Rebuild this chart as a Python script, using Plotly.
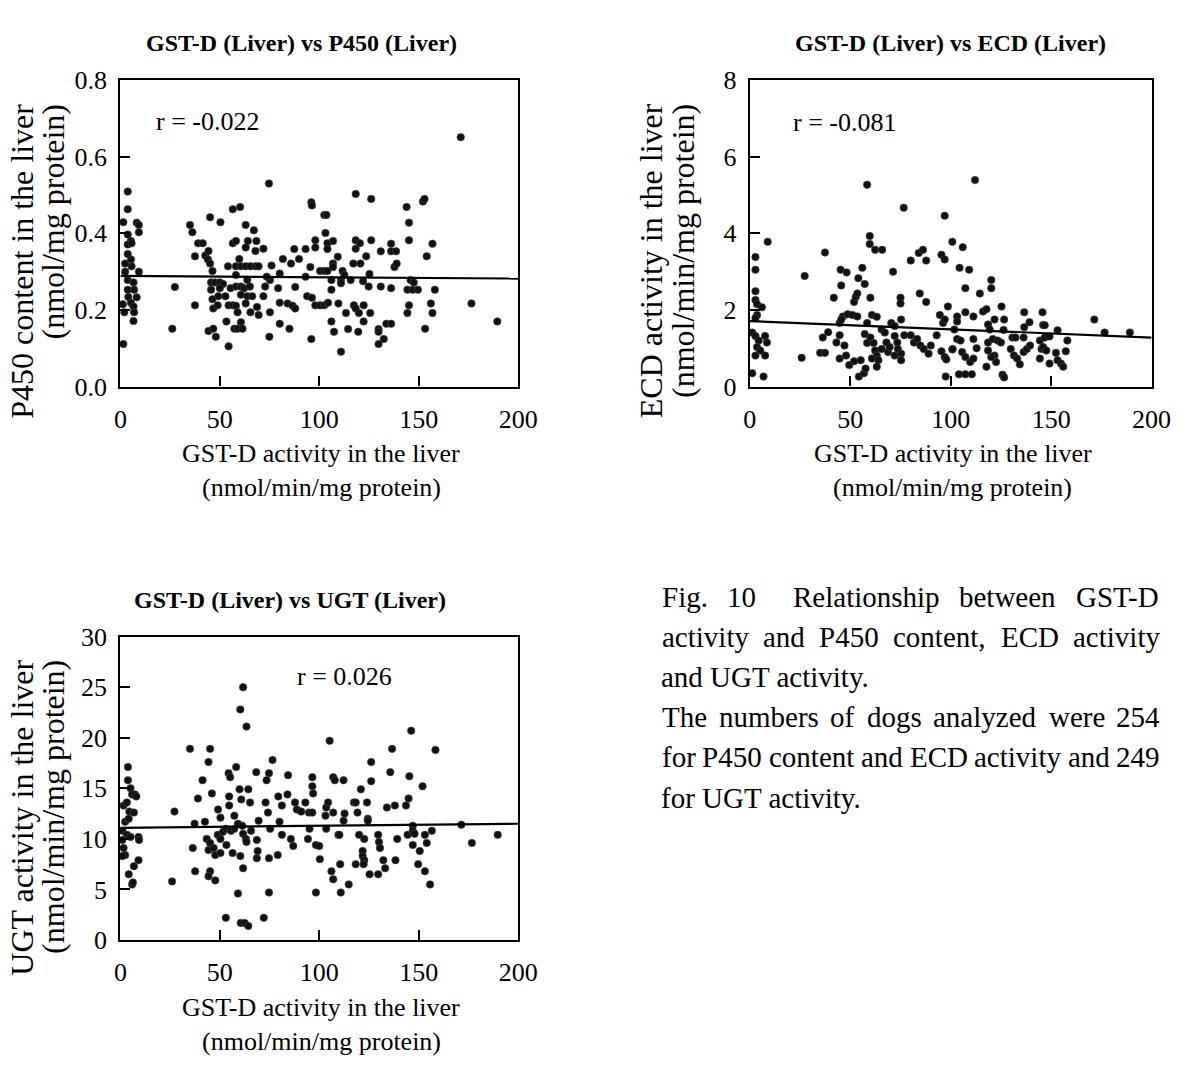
import re
import plotly.graph_objects as go

# ---------------- data ----------------
GST_TICKS = [0, 50, 100, 150, 200]

P450_TICKS = [0.0, 0.2, 0.4, 0.6, 0.8]
P450_TICK_TEXT = ["0.0", "0.2", "0.4", "0.6", "0.8"]
P450_R = "r = -0.022"
P450_FIT_X = [0, 200]
P450_FIT_Y = [0.289, 0.282]
P450_POINTS = [
    (3.7, 0.509), (3.7, 0.463), (1.5, 0.429), (8.2, 0.428), (9.3, 0.422), (9.3, 0.403), (3.7, 0.397),
    (5.3, 0.380), (3.7, 0.371), (5.6, 0.374), (5.3, 0.332), (5.6, 0.314), (9.3, 0.300), (2.4, 0.300),
    (3.7, 0.278), (6.6, 0.272), (3.7, 0.253), (6.9, 0.253), (4.0, 0.234), (8.2, 0.233), (5.3, 0.219),
    (6.6, 0.209), (1.2, 0.215), (2.0, 0.194), (6.9, 0.194), (6.6, 0.171), (1.5, 0.111), (2.4, 0.321),
    (3.7, 0.346),
    (27.4, 0.260), (26.1, 0.151), (35.0, 0.422), (36.2, 0.403), (37.5, 0.340), (39.1, 0.374), (41.4, 0.374),
    (37.5, 0.212), (42.7, 0.342), (44.0, 0.332), (45.1, 0.321), (44.3, 0.354), (45.1, 0.442), (50.3, 0.429),
    (46.3, 0.302), (45.6, 0.272), (47.6, 0.272), (50.0, 0.272), (51.6, 0.268), (45.6, 0.253), (50.0, 0.257),
    (46.3, 0.228), (49.2, 0.236), (46.7, 0.204), (48.9, 0.212), (44.3, 0.145), (46.7, 0.151), (48.0, 0.130),
    (53.3, 0.170), (54.4, 0.105), (52.8, 0.236), (54.4, 0.212), (56.5, 0.212), (58.1, 0.211), (58.9, 0.194),
    (56.5, 0.463), (60.2, 0.469), (56.5, 0.374), (58.1, 0.380), (54.1, 0.314), (58.1, 0.314), (59.8, 0.333),
    (60.6, 0.314), (63.0, 0.314), (65.4, 0.314), (67.9, 0.314), (69.5, 0.314), (58.1, 0.291), (55.4, 0.257),
    (58.1, 0.261), (60.6, 0.261), (62.2, 0.257), (60.6, 0.240), (63.8, 0.236), (63.0, 0.422), (67.1, 0.408),
    (64.1, 0.380), (68.4, 0.380), (63.0, 0.363), (67.9, 0.354), (71.9, 0.360), (63.8, 0.278), (65.1, 0.261),
    (66.3, 0.236), (63.0, 0.217), (65.4, 0.194), (68.7, 0.208), (69.5, 0.187), (57.3, 0.151), (58.9, 0.151),
    (60.6, 0.168), (61.4, 0.151), (74.7, 0.530), (71.9, 0.236), (72.8, 0.261), (75.2, 0.278), (73.6, 0.287),
    (76.0, 0.316), (75.2, 0.194), (74.9, 0.130), (80.1, 0.295), (79.3, 0.257), (80.1, 0.219), (80.1, 0.164),
    (81.7, 0.333), (84.1, 0.217), (85.0, 0.151), (85.8, 0.321), (87.4, 0.359), (89.8, 0.333), (93.1, 0.359),
    (87.9, 0.260), (86.6, 0.211), (87.9, 0.204), (93.1, 0.287), (95.5, 0.312), (98.0, 0.363), (98.0, 0.382),
    (93.9, 0.236), (96.3, 0.232), (98.0, 0.212), (100.4, 0.212), (96.0, 0.481), (96.3, 0.473), (96.0, 0.124),
    (100.4, 0.302), (102.5, 0.448), (103.6, 0.448), (103.1, 0.401), (104.1, 0.374), (104.1, 0.359),
    (106.9, 0.380), (102.5, 0.302), (104.1, 0.302), (106.9, 0.321), (106.9, 0.312), (109.3, 0.339),
    (111.7, 0.302), (106.1, 0.278), (110.9, 0.278), (110.9, 0.270), (115.8, 0.278), (112.6, 0.291),
    (106.1, 0.253), (102.5, 0.212), (104.4, 0.219), (109.6, 0.217), (106.1, 0.170), (107.4, 0.143),
    (110.9, 0.091), (113.4, 0.192), (114.5, 0.150), (119.6, 0.143), (118.3, 0.503), (126.1, 0.490),
    (118.3, 0.382), (120.4, 0.374), (118.3, 0.360), (126.1, 0.382), (117.1, 0.321), (120.7, 0.321),
    (123.6, 0.340), (125.2, 0.294), (122.0, 0.275), (124.8, 0.261), (117.4, 0.212), (118.3, 0.204),
    (119.9, 0.192), (122.3, 0.212), (122.3, 0.170), (125.6, 0.192), (130.9, 0.353), (136.1, 0.373),
    (136.1, 0.353), (138.6, 0.353), (137.8, 0.312), (138.9, 0.321), (130.9, 0.261), (136.1, 0.257),
    (129.8, 0.150), (129.8, 0.143), (133.7, 0.164), (136.1, 0.164), (129.8, 0.111), (132.4, 0.124),
    (143.9, 0.469), (145.1, 0.428), (145.1, 0.382), (152.1, 0.483), (152.9, 0.490), (156.9, 0.373),
    (154.0, 0.340), (145.9, 0.278), (147.5, 0.272), (144.3, 0.253), (147.0, 0.253), (149.6, 0.253),
    (158.1, 0.253), (145.1, 0.212), (144.3, 0.192), (156.1, 0.217), (156.9, 0.192), (153.2, 0.151),
    (171.1, 0.651), (176.5, 0.217), (189.5, 0.170),
]

ECD_TICKS = [0, 2, 4, 6, 8]
ECD_TICK_TEXT = ["0", "2", "4", "6", "8"]
ECD_R = "r = -0.081"
ECD_FIT_X = [0, 200]
ECD_FIT_Y = [1.71, 1.28]
ECD_POINTS = [
    (8.9, 3.78), (2.8, 3.38), (2.8, 3.05), (2.8, 2.49), (2.8, 2.26), (3.6, 2.15), (6.0, 2.07), (3.6, 1.87),
    (2.8, 1.79), (1.2, 1.41), (2.8, 1.32), (4.4, 1.20), (7.6, 1.32), (8.5, 1.15), (3.6, 1.03), (5.2, 0.94),
    (7.6, 0.81), (2.8, 0.81), (1.2, 0.35), (6.8, 0.26),
    (27.3, 2.89), (25.8, 0.75), (35.0, 0.88), (37.4, 0.88), (37.4, 3.50), (36.3, 1.28), (39.0, 1.42),
    (41.8, 2.32), (45.2, 3.05), (48.2, 2.98), (45.5, 2.64), (43.1, 1.15), (44.7, 1.34), (47.1, 1.07),
    (44.7, 0.73), (47.9, 0.81), (49.5, 0.56), (44.7, 1.66), (46.3, 1.83), (48.7, 1.89), (51.1, 1.87),
    (53.5, 1.83), (45.5, 1.75), (51.9, 2.21), (52.7, 2.34), (53.5, 2.43), (56.0, 3.10), (54.0, 2.83),
    (57.2, 2.68), (51.9, 0.66), (55.2, 0.69), (54.3, 0.26), (56.8, 0.35), (57.6, 0.47), (58.4, 5.27),
    (59.7, 3.93), (59.7, 3.72), (62.4, 3.57), (65.9, 3.57), (60.0, 2.32), (58.4, 1.66), (60.8, 1.87),
    (63.2, 1.82), (57.2, 1.37), (58.4, 1.14), (60.0, 1.28), (61.6, 1.14), (62.4, 0.94), (63.2, 0.81),
    (64.0, 0.69), (60.8, 0.73), (63.2, 0.52), (65.6, 1.49), (67.2, 1.41), (68.0, 1.15), (65.6, 0.98),
    (68.8, 0.90), (69.6, 1.03), (70.4, 1.66), (72.1, 1.58), (75.3, 1.75), (71.3, 3.00), (75.0, 2.32),
    (75.0, 2.17), (72.1, 1.32), (73.4, 1.15), (73.7, 0.98), (75.3, 0.86), (75.3, 0.69), (72.1, 0.81),
    (76.6, 4.67), (80.1, 3.29), (84.1, 3.49), (86.2, 3.57), (87.8, 3.29), (84.6, 2.43), (87.8, 2.21),
    (76.9, 1.34), (80.1, 1.34), (81.7, 1.15), (83.3, 1.24), (84.9, 1.07), (86.6, 0.98), (89.0, 0.86),
    (90.1, 1.07), (93.0, 1.34), (94.6, 1.87), (96.2, 1.66), (97.0, 1.75), (95.4, 0.92), (97.0, 0.77),
    (97.8, 0.71), (97.5, 0.26), (97.0, 4.46), (95.4, 3.44), (97.0, 3.32), (98.6, 2.09), (101.8, 1.49),
    (101.0, 0.98),
    (112.1, 5.39), (100.8, 3.78), (106.0, 3.64), (104.4, 3.10), (109.2, 3.05), (107.3, 2.57), (114.5, 2.43),
    (120.2, 2.78), (120.2, 2.57), (103.2, 1.83), (103.2, 1.70), (107.3, 1.94), (111.3, 1.83), (116.1, 1.96),
    (117.8, 2.02), (118.6, 1.62), (119.4, 1.49), (121.8, 1.75), (125.3, 2.09), (126.6, 1.75), (126.3, 1.48),
    (136.6, 1.94), (139.2, 1.68), (136.6, 1.55), (145.7, 1.94), (146.0, 1.61), (146.8, 1.60), (153.2, 1.47),
    (171.5, 1.75), (176.6, 1.41), (189.2, 1.41), (100.8, 0.97), (103.2, 1.24), (104.9, 1.20), (105.7, 0.90),
    (107.3, 0.77), (109.7, 0.64), (111.3, 0.73), (112.9, 1.00), (111.3, 1.24), (117.8, 0.52), (118.6, 1.15),
    (118.6, 0.94), (121.0, 1.24), (123.4, 1.20), (125.0, 1.15), (121.8, 0.81), (122.6, 0.64), (120.2, 0.77),
    (130.7, 1.28), (132.3, 1.28), (136.3, 1.28), (129.9, 0.98), (131.5, 0.81), (133.1, 0.73), (134.4, 0.58),
    (136.3, 0.90), (137.9, 0.98), (139.5, 1.07), (144.4, 1.20), (146.8, 1.28), (149.2, 1.31), (145.2, 0.98),
    (146.0, 1.03), (147.6, 0.94), (144.4, 0.73), (149.2, 0.60), (152.4, 0.88), (153.2, 0.69), (154.9, 0.60),
    (156.0, 0.52), (158.1, 1.20), (157.3, 0.92), (104.1, 0.32), (107.3, 0.32), (110.5, 0.32), (125.8, 0.31),
    (126.6, 0.24),
]

UGT_TICKS = [0, 5, 10, 15, 20, 25, 30]
UGT_TICK_TEXT = ["0", "5", "10", "15", "20", "25", "30"]
UGT_R = "r = 0.026"
UGT_FIT_X = [0, 200]
UGT_FIT_Y = [11.1, 11.5]
UGT_POINTS = [
    (3.8, 17.1), (3.8, 15.8), (5.1, 15.0), (5.9, 14.4), (7.3, 14.4), (8.0, 14.2), (1.6, 13.3), (3.3, 13.6),
    (4.5, 12.7), (6.8, 12.6), (2.4, 11.7), (4.2, 12.0), (1.0, 10.8), (3.3, 10.4), (5.1, 10.2), (9.1, 10.2),
    (9.4, 9.9), (1.0, 9.9), (1.6, 9.1), (2.4, 8.4), (1.0, 8.3), (4.2, 6.5), (9.1, 7.9), (6.8, 7.3),
    (5.9, 5.5), (6.3, 5.7),
    (27.2, 12.7), (26.0, 5.8), (35.0, 18.9), (37.3, 11.5), (39.0, 14.0), (36.4, 9.1), (37.6, 6.8),
    (41.3, 15.8), (42.5, 11.7), (44.3, 17.6), (45.1, 18.9), (46.0, 14.5), (43.4, 10.0), (45.1, 9.6),
    (44.3, 8.9), (46.9, 9.1), (47.7, 8.4), (45.1, 6.8), (44.3, 6.3), (47.7, 5.9), (49.1, 12.9), (50.3, 12.1),
    (49.0, 10.4), (50.3, 10.0), (51.6, 10.7), (53.0, 11.0), (53.3, 9.4), (50.3, 8.6), (54.4, 16.5),
    (55.2, 16.1), (54.7, 14.2), (54.7, 13.3), (55.6, 10.8), (57.3, 11.0), (57.3, 12.3), (58.2, 17.1),
    (59.1, 11.5), (56.4, 8.6), (53.0, 2.2), (59.1, 4.6), (60.3, 22.8), (61.7, 25.0), (63.4, 21.1),
    (59.9, 14.9), (60.8, 13.9), (61.3, 11.3), (61.7, 10.5), (63.1, 10.0), (60.3, 8.3), (61.7, 7.1),
    (63.4, 9.7), (64.3, 14.9), (65.2, 13.6), (65.7, 10.8), (60.5, 1.7), (62.5, 1.7), (64.3, 1.4),
    (68.3, 16.6), (69.5, 11.8), (68.6, 9.9), (69.0, 8.8), (68.6, 8.1), (73.0, 13.6), (73.5, 15.8),
    (74.7, 16.5), (74.2, 12.6), (75.3, 11.0), (74.7, 8.1), (74.7, 4.7), (72.1, 2.2), (76.5, 17.8),
    (79.4, 14.2), (80.0, 11.7), (79.1, 8.4), (81.2, 10.4), (81.2, 13.3), (84.3, 16.3), (84.0, 14.4),
    (85.7, 10.0), (86.9, 9.3), (87.8, 13.6), (88.7, 12.9), (90.9, 12.7), (93.0, 13.6), (94.8, 12.6),
    (96.5, 12.6), (94.3, 10.0), (95.1, 11.0), (96.5, 16.1), (96.5, 15.2), (96.9, 14.5), (98.3, 9.4),
    (100.0, 9.3), (100.3, 8.0), (98.3, 4.7), (103.1, 12.3), (103.5, 11.0), (103.5, 13.1), (104.4, 13.6),
    (105.2, 19.7), (107.0, 16.1), (107.0, 12.6), (107.8, 15.8), (109.6, 10.4), (110.1, 10.4), (112.2, 15.8),
    (112.2, 11.8), (112.7, 12.5), (106.1, 6.8), (107.0, 6.0), (110.5, 7.5), (110.8, 4.7), (114.8, 5.5),
    (117.4, 13.6), (118.3, 13.6), (119.2, 12.6), (118.3, 7.5), (120.0, 10.4), (120.9, 14.9), (121.8, 8.8),
    (121.8, 8.3), (122.6, 7.9), (122.3, 7.5), (124.0, 13.6), (124.4, 12.0), (122.6, 10.0), (124.4, 11.8),
    (126.1, 17.6), (126.1, 15.7), (125.3, 6.5), (129.6, 10.4), (130.0, 9.7), (130.5, 9.1), (129.6, 6.5),
    (132.2, 7.9), (133.1, 7.1), (134.0, 13.1), (135.7, 16.6), (136.6, 18.9), (138.0, 13.3), (138.3, 7.9),
    (139.2, 10.0), (143.6, 13.3), (144.4, 10.4), (144.9, 14.0), (145.3, 16.2), (146.2, 20.7), (147.0, 11.3),
    (147.0, 10.8), (147.9, 10.5), (147.0, 9.4), (149.7, 7.5), (150.5, 8.8), (153.1, 10.4), (151.9, 15.2),
    (153.1, 6.8), (154.0, 9.6), (155.7, 5.5), (156.6, 10.8), (158.4, 18.8), (171.4, 11.4), (176.7, 9.6),
    (189.7, 10.4),
]

TITLES = ["GST-D (Liver) vs P450 (Liver)", "GST-D (Liver) vs ECD (Liver)", "GST-D (Liver) vs UGT (Liver)"]
X_TITLE = ["GST-D activity in the liver", "(nmol/min/mg protein)"]
Y_TITLES = [
    ["P450 content in the liver", "(nmol/mg protein)"],
    ["ECD activity in the liver", "(nmol/min/mg protein)"],
    ["UGT activity in the liver", "(nmol/min/mg protein)"],
]
CAPTION = [
    ("Fig. 10  Relationship between GST-D", True),
    ("activity and P450 content, ECD activity", True),
    ("and UGT activity.", False),
    ("The numbers of dogs analyzed were 254", True),
    ("for P450 content and ECD activity and 249", True),
    ("for UGT activity.", False),
]

# ---------------- layout helpers ----------------
W_PX, H_PX = 1196, 1065
SERIF = "Liberation Serif, Times New Roman, serif"
TICK_SIZE = 26
XT_SIZE = 26
YT_SIZE = 32
TITLE_SIZE = 24
CAP_SIZE = 29


def fx(px):
    return px / W_PX


def fy(py):
    return 1 - py / H_PX


# plot-area boxes in pixels: (left, right, top, bottom)
BOXES = [(116, 523, 68, 383), (760, 1171, 68, 383), (116, 523, 640, 952)]
TITLE_POS = [(301, 30), (965, 30), (290, 602)]
R_POS = [(205, 110), (857, 112), (345, 681)]

panels = [
    (P450_POINTS, P450_FIT_X, P450_FIT_Y, P450_TICKS, P450_TICK_TEXT, [0, 0.8], P450_R),
    (ECD_POINTS, ECD_FIT_X, ECD_FIT_Y, ECD_TICKS, ECD_TICK_TEXT, [0, 8], ECD_R),
    (UGT_POINTS, UGT_FIT_X, UGT_FIT_Y, UGT_TICKS, UGT_TICK_TEXT, [0, 30], UGT_R),
]

fig = go.Figure()
annotations = []
layout_axes = {}

for i, (pts, fxs, fys, yt, ytt, yr, rtxt) in enumerate(panels):
    k = "" if i == 0 else str(i + 1)
    xs = [p[0] for p in pts]
    ys = [p[1] for p in pts]
    fig.add_trace(go.Scatter(
        x=xs, y=ys, mode="markers", xaxis="x" + k, yaxis="y" + k,
        marker=dict(size=7.5, color="#111111", line=dict(width=0.6, color="#444444")),
        cliponaxis=False, showlegend=False, hoverinfo="x+y",
    ))
    fig.add_trace(go.Scatter(
        x=fxs, y=fys, mode="lines", xaxis="x" + k, yaxis="y" + k,
        line=dict(color="black", width=2.2), showlegend=False, hoverinfo="skip",
    ))
    left, right, top, bottom = BOXES[i]
    common = dict(
        showline=True, linecolor="black", linewidth=2.2, mirror=True,
        ticks="inside", ticklen=10, tickwidth=2, tickcolor="black",
        showgrid=False, zeroline=False,
        tickfont=dict(family=SERIF, size=TICK_SIZE, color="black"),
    )
    layout_axes["xaxis" + k] = dict(
        domain=[fx(left), fx(right)], range=[0, 200], tickvals=GST_TICKS,
        anchor="y" + k, ticklabelstandoff=8, **common,
    )
    layout_axes["yaxis" + k] = dict(
        domain=[fy(bottom), fy(top)], range=yr, tickvals=yt, ticktext=ytt,
        anchor="x" + k, ticklabelstandoff=6, **common,
    )
    # subplot title
    tx, ty = TITLE_POS[i]
    annotations.append(dict(
        text="<b>" + TITLES[i] + "</b>", x=fx(tx), y=fy(ty), xref="paper", yref="paper",
        xanchor="center", yanchor="middle", showarrow=False,
        font=dict(family=SERIF, size=TITLE_SIZE, color="black"),
    ))
    # r annotation
    rx, ry = R_POS[i]
    annotations.append(dict(
        text=rtxt, x=fx(rx), y=fy(ry), xref="paper", yref="paper",
        xanchor="center", yanchor="middle", showarrow=False,
        font=dict(family=SERIF, size=TICK_SIZE, color="black"),
    ))
    # x-axis title (two lines)
    cx = (left + right) / 2
    for j, line in enumerate(X_TITLE):
        annotations.append(dict(
            text=line, x=fx(cx + 2), y=fy(bottom + 69 + 35 * j), xref="paper", yref="paper",
            xanchor="center", yanchor="middle", showarrow=False,
            font=dict(family=SERIF, size=XT_SIZE, color="black"),
        ))
    # y-axis title (two rotated lines, top-aligned)
    for j, line in enumerate(Y_TITLES[i]):
        annotations.append(dict(
            text=line, x=fx(left - 101 + 32 * j), y=fy(top + 22), xref="paper", yref="paper",
            xanchor="center", yanchor="top", textangle=-90, showarrow=False,
            font=dict(family=SERIF, size=YT_SIZE, color="black"),
        ))

# ---------------- caption (justified) ----------------
TIMES_W = {
    " ": 250, ",": 250, "-": 333, ".": 250, "(": 333, ")": 333,
    "A": 722, "C": 667, "D": 722, "E": 611, "F": 556, "G": 722, "P": 556, "R": 667, "S": 556,
    "T": 611, "U": 722,
    "a": 444, "b": 500, "c": 444, "d": 500, "e": 444, "f": 333, "g": 500, "h": 500, "i": 278,
    "l": 278, "m": 778, "n": 500, "o": 500, "p": 500, "r": 333, "s": 389, "t": 278, "u": 500,
    "v": 500, "w": 722, "y": 500, "z": 444,
}


def text_w(s, size):
    return sum(TIMES_W.get(c, 500) for c in s) / 1000 * size * 1.03


CAP_LEFT, CAP_RIGHT = 670, 1180
CAP_Y0, CAP_DY = 599, 41.3
for li, (line, justify) in enumerate(CAPTION):
    y = fy(CAP_Y0 + CAP_DY * li)
    if not justify:
        annotations.append(dict(
            text=line, x=fx(CAP_LEFT - 3), y=y, xref="paper", yref="paper",
            xanchor="left", yanchor="middle", showarrow=False,
            font=dict(family=SERIF, size=CAP_SIZE, color="black"),
        ))
        continue
    parts = re.findall(r"\S+|\s+", line)
    words = [p for p in parts if not p.isspace()]
    gaps = [len(p) for p in parts if p.isspace()]
    widths = [text_w(w, CAP_SIZE) for w in words]
    extra = (CAP_RIGHT - CAP_LEFT - sum(widths)) / sum(gaps)
    # place each word by its centre so width-estimate errors stay symmetric
    xpos = CAP_LEFT
    for wi, w in enumerate(words):
        annotations.append(dict(
            text=w, x=fx(xpos + widths[wi] / 2), y=y, xref="paper", yref="paper",
            xanchor="center", yanchor="middle", showarrow=False,
            font=dict(family=SERIF, size=CAP_SIZE, color="black"),
        ))
        if wi < len(gaps):
            xpos += widths[wi] + gaps[wi] * extra

fig.update_layout(
    width=W_PX, height=H_PX,
    margin=dict(l=0, r=0, t=0, b=0),
    paper_bgcolor="white", plot_bgcolor="white",
    font=dict(family=SERIF, color="black"),
    showlegend=False,
    annotations=annotations,
    **layout_axes,
)

fig.write_html(
    "out.html",
    post_script="document.body.style.margin='0';document.body.style.overflow='hidden';",
)
